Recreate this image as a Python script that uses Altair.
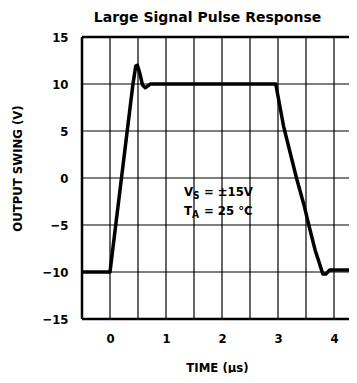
import altair as alt
import pandas as pd

# curve data (time in µs, output in V)
time_us = [-0.5, 0.0, 0.41, 0.46, 0.49, 0.53, 0.58, 0.63, 0.68, 0.72, 2.96, 3.10, 3.33, 3.47, 3.55, 3.66, 3.80, 3.86, 3.92, 4.00, 4.45]
volts = [-10, -10, 10.0, 11.9, 12.0, 11.2, 9.9, 9.6, 9.8, 10.0, 10.0, 5.5, 0.0, -3.0, -5.0, -7.6, -10.2, -10.2, -9.8, -9.8, -9.8]

x_grid = [0, 0.5, 1, 1.5, 2, 2.5, 3, 3.5, 4, 4.5]
y_grid = [-10, -5, 0, 5, 10]
x_border = [-0.5]
y_border = [-15, 15]
x_labels = [0, 1, 2, 3, 4]
y_labels = [-15, -10, -5, 0, 5, 10, 15]

FONT = "DejaVu Sans Condensed, Liberation Sans"

xs = alt.Scale(domain=[-0.5, 4.268], nice=False, zero=False)
ys = alt.Scale(domain=[-15, 15], nice=False, zero=False)
x_axis = alt.Axis(values=x_labels, labelPadding=13, format="d",
                  titleY=42, titleX=135)
y_axis = alt.Axis(values=y_labels, labelPadding=14, format="d",
                  titleX=-58, titleY=131, titleAngle=270)

X = alt.X("x:Q", scale=xs, title="TIME (µs)", axis=x_axis)
Y = alt.Y("y:Q", scale=ys, title="OUTPUT SWING (V)", axis=y_axis)

df = pd.DataFrame({"x": time_us, "y": volts})

vgrid = alt.Chart(pd.DataFrame({"x": x_grid})).mark_rule(color="black", strokeWidth=1.2, clip=True).encode(x=X)
hgrid = alt.Chart(pd.DataFrame({"y": y_grid})).mark_rule(color="black", strokeWidth=1.2).encode(y=Y)
vborder = alt.Chart(pd.DataFrame({"x": x_border})).mark_rule(color="black", strokeWidth=2.5).encode(x=X)
hborder = alt.Chart(pd.DataFrame({"y": y_border})).mark_rule(color="black", strokeWidth=2.5).encode(y=Y)

line = alt.Chart(df).mark_line(color="black", strokeWidth=3.5, clip=True, strokeJoin="round").encode(x=X, y=Y)

# annotation
ann = pd.DataFrame({"x": [1.32, 1.32], "y": [-1.5, -3.5]})
base = alt.Chart(ann)
def txt(row, text, dx, size=13, dy=0):
    return base.transform_filter(f"datum.y == {ann['y'][row]}").mark_text(
        text=text, align="left", baseline="middle", font=FONT, fontWeight="bold",
        fontSize=size, dx=dx, dy=dy, color="black").encode(x=X, y=Y)

texts = [
    txt(0, "V", 0), txt(0, "S", 9, size=10, dy=4), txt(0, "=  ±15V", 20),
    txt(1, "T", 0), txt(1, "A", 8, size=10, dy=4), txt(1, "=  25 °C", 20),
]

chart = alt.layer(vgrid, hgrid, vborder, hborder, line, *texts).properties(
    width=267, height=282,
    title=alt.TitleParams("Large Signal Pulse Response", font="DejaVu Sans", fontSize=14,
                          fontWeight="bold", color="black", offset=6, dx=-8),
    autosize=alt.AutoSizeParams(type="none"),
    padding={"left": 74, "top": 29, "right": 0, "bottom": 54},
).configure_view(strokeWidth=0).configure_axis(
    grid=False, tickSize=0, domain=False,
    labelFont=FONT, labelFontSize=13, labelFontWeight="bold", labelColor="black",
    titleFont=FONT, titleFontSize=13, titleFontWeight="bold", titleColor="black",
)

chart.save("out.html", embed_options={"renderer": "svg", "actions": False})
